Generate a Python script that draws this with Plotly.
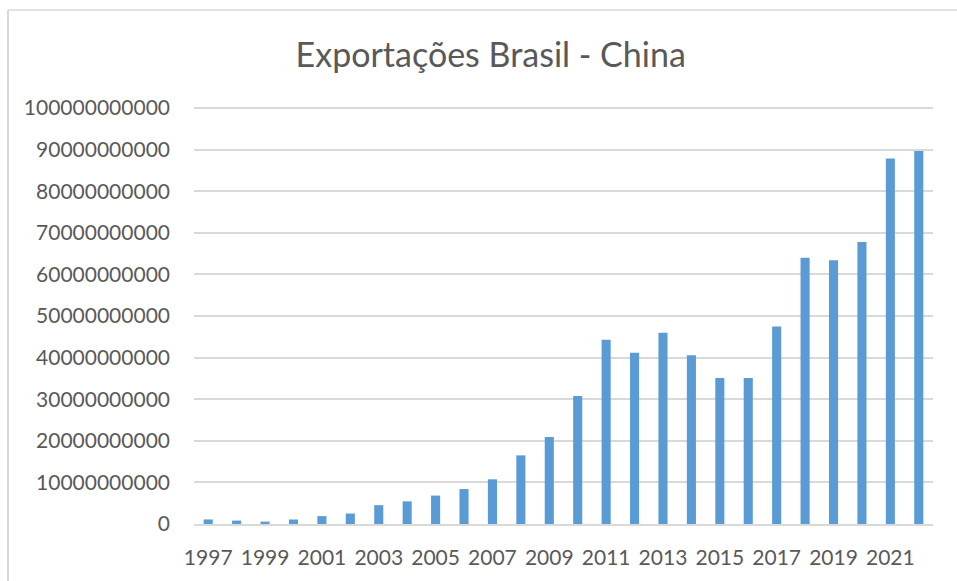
import plotly.graph_objects as go

years = [str(y) for y in range(1997, 2023)]
exports = [1.09e9, 0.82e9, 0.58e9, 1.08e9, 1.9e9, 2.52e9, 4.53e9, 5.44e9, 6.83e9, 8.4e9,
           10.75e9, 16.5e9, 20.9e9, 30.8e9, 44.3e9, 41.2e9, 46.0e9, 40.6e9, 35.1e9, 35.1e9,
           47.5e9, 64.0e9, 63.4e9, 67.8e9, 87.9e9, 89.7e9]
y_ticks = [i * 10_000_000_000 for i in range(11)]
y_labels = [str(v) for v in y_ticks]
x_ticks = years[::2]

W, H = 957, 581
L, R, T, B = 194, 24, 106, 57
pw, ph = W - L - R, H - T - B

fig = go.Figure(go.Bar(x=years, y=exports, marker_color="#5B9BD5", marker_line_width=0))

def px_x(p):
    return (p - L) / pw

def px_y(p):
    return (H - B - p) / ph

fig.update_layout(
    width=W, height=H,
    margin=dict(l=L, r=R, t=T, b=B),
    paper_bgcolor="white", plot_bgcolor="white",
    bargap=0.68,
    font=dict(family="Lato", color="#595959", size=21),
    title=dict(text="Exportações Brasil - China", x=490.7 / W, xref="container", xanchor="center",
               y=1 - 55 / H, yref="container", yanchor="middle",
               font=dict(family="Lato", size=34, color="#595959")),
    showlegend=False,
    shapes=[
        dict(type="line", xref="paper", yref="paper", x0=px_x(8), x1=px_x(960), y0=px_y(10), y1=px_y(10),
             line=dict(color="#D9D9D9", width=1.5)),
        dict(type="line", xref="paper", yref="paper", x0=px_x(8), x1=px_x(8), y0=px_y(10), y1=px_y(590),
             line=dict(color="#D9D9D9", width=2)),
    ],
)
fig.update_xaxes(type="category", tickmode="array", tickvals=x_ticks, ticktext=x_ticks,
                 showgrid=False, showline=True, linecolor="#D9D9D9", linewidth=1.5,
                 ticks="", ticklabelstandoff=14, tickfont=dict(size=21, color="#595959"))
fig.update_yaxes(range=[0, 100_500_000_000], tickmode="array", tickvals=y_ticks, ticktext=y_labels,
                 showgrid=True, gridcolor="#D9D9D9", gridwidth=1.5, zeroline=False, showline=False,
                 ticks="", ticklabelstandoff=23, tickfont=dict(size=21, color="#595959"))

fig.write_html("out.html")
